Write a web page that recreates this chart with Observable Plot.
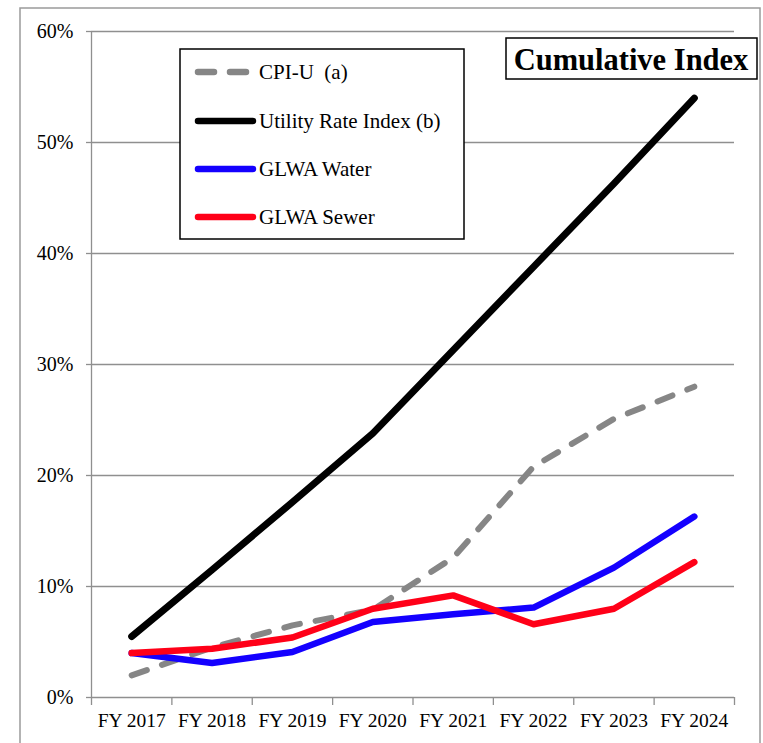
<!DOCTYPE html>
<html>
<head>
<meta charset="utf-8">
<script src="https://cdn.jsdelivr.net/npm/d3@7"></script>
<script src="https://cdn.jsdelivr.net/npm/@observablehq/plot@0.6"></script>
<style>
  html, body { margin: 0; padding: 0; background: #fff; }
  #chart { width: 763px; height: 743px; overflow: hidden; }
</style>
</head>
<body>
<div id="chart"></div>
<script>
// ---- data ----
const fiscalYears = ["FY 2017", "FY 2018", "FY 2019", "FY 2020", "FY 2021", "FY 2022", "FY 2023", "FY 2024"];
const cpiU        = [2.0, 4.5, 6.5, 7.9, 12.6, 20.8, 25.1, 28.0];
const utilityRate = [5.5, 11.5, 17.6, 23.8, 31.3, 38.8, 46.3, 54.0];
const glwaWater   = [4.0, 3.1, 4.1, 6.8, 7.5, 8.1, 11.7, 16.3];
const glwaSewer   = [4.0, 4.4, 5.4, 8.0, 9.2, 6.6, 8.0, 12.2];
const yTicks      = [0, 10, 20, 30, 40, 50, 60];
const seriesNames = ["CPI-U  (a)", "Utility Rate Index (b)", "GLWA Water", "GLWA Sewer"];
const seriesColors = ["#868686", "#000000", "#1400ff", "#ff0018"];
const chartTitle = "Cumulative Index";

const seriesValues = [cpiU, utilityRate, glwaWater, glwaSewer];
const idx = d3.range(fiscalYears.length);
const bounds = d3.range(fiscalYears.length + 1).map(i => i - 0.5);
const gray = "#8f8f8f";
const font = "'Liberation Serif', 'Times New Roman', Times, serif";

const lineMark = (k, extra = {}) => Plot.line(seriesValues[k], {
  x: (d, i) => i, y: d => d,
  stroke: seriesColors[k], strokeWidth: 6.5, strokeLinecap: "round", strokeLinejoin: "round",
  ...extra
});

const plot = Plot.plot({
  width: 763, height: 743,
  marginLeft: 91, marginRight: 29, marginTop: 31, marginBottom: 46,
  style: { fontFamily: font, fontSize: "19.5px", background: "#fff", color: "#000" },
  x: { type: "linear", domain: [-0.5, fiscalYears.length - 0.5] },
  y: { domain: [0, 60] },
  marks: [
    Plot.gridY(yTicks, { stroke: gray, strokeOpacity: 1, strokeWidth: 1.3 }),
    Plot.ruleX([-0.5], { stroke: gray, strokeWidth: 1.3 }),
    Plot.axisY({ ticks: yTicks, tickFormat: d => d + "%", tickSize: 5, tickPadding: 13, stroke: gray, strokeWidth: 1.3, fill: "#000", label: null, fontSize: 20 }),
    Plot.axisX({ ticks: bounds, tickSize: 8, tickFormat: () => "", stroke: gray, strokeWidth: 1.3, label: null }),
    Plot.axisX({ ticks: idx, tickSize: 0, tickPadding: 16, tickFormat: i => fiscalYears[i], fill: "#000", label: null }),
    lineMark(0, { strokeDasharray: "16,16", strokeWidth: 6 }),
    lineMark(1, { strokeWidth: 7 }),
    lineMark(2),
    lineMark(3)
  ]
});

document.getElementById("chart").appendChild(plot);
const svg = d3.select(plot);

// outer border
svg.append("rect").attr("x", 20).attr("y", 8).attr("width", 740).attr("height", 800)
  .attr("fill", "none").attr("stroke", "#9a9a9a").attr("stroke-width", 1.5);

// legend
const lg = svg.append("g").attr("text-anchor", "start");
lg.append("rect").attr("x", 180).attr("y", 49).attr("width", 284).attr("height", 190)
  .attr("fill", "#fff").attr("stroke", "#000").attr("stroke-width", 1.5);
const legendY = [72, 121, 169, 217];
seriesNames.forEach((name, k) => {
  const g = lg.append("g");
  g.append("line").attr("x1", 198).attr("x2", 253).attr("y1", legendY[k]).attr("y2", legendY[k])
    .attr("stroke", seriesColors[k]).attr("stroke-width", 6.5).attr("stroke-linecap", "round")
    .attr("stroke-dasharray", k === 0 ? "16,16" : null);
  g.append("text").attr("x", 259).attr("y", legendY[k]).attr("dy", "0.34em")
    .attr("text-anchor", "start")
    .attr("font-family", font).attr("font-size", 21).attr("fill", "#000")
    .style("white-space", "pre").text(name);
});

// title box
const tg = svg.append("g");
tg.append("rect").attr("x", 506).attr("y", 38).attr("width", 251).attr("height", 41)
  .attr("fill", "#fff").attr("stroke", "#000").attr("stroke-width", 1.5);
tg.append("text").attr("x", 631).attr("y", 59).attr("dy", "0.35em").attr("text-anchor", "middle")
  .attr("font-family", font).attr("font-size", 30.5).attr("font-weight", "bold").attr("fill", "#000")
  .text(chartTitle);
</script>
</body>
</html>
